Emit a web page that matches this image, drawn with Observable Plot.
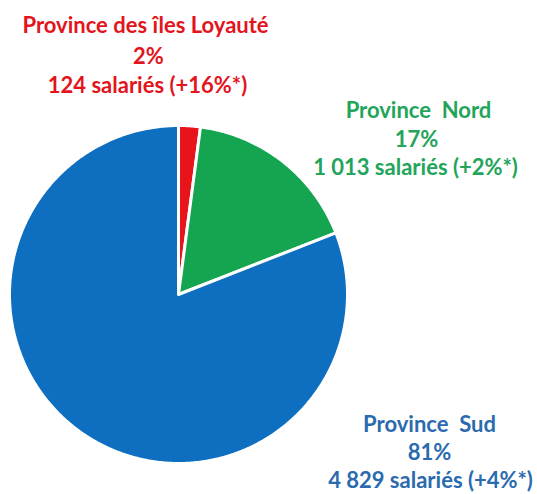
<!DOCTYPE html>
<html><head><meta charset="utf-8">
<script src="https://cdn.jsdelivr.net/npm/d3@7"></script>
<script src="https://cdn.jsdelivr.net/npm/@observablehq/plot@0.6"></script>
<style>
body{margin:0;background:#fff;}
#chart svg{display:block;font-family:Lato,"Open Sans",sans-serif;}
</style>
</head><body><div id="chart"></div>
<script>
// Data
const provinces = ["Province des îles Loyauté", "Province Nord", "Province Sud"];
const employees = [124, 1013, 4829];
const shares = ["2%", "17%", "81%"];
const growth = ["+16%*", "+2%*", "+4%*"];
const sliceColors = ["#e8141b", "#15a550", "#0e6ebf"];
const textColors = ["#e3141c", "#22a55a", "#2a6aae"];

const fr = d3.formatLocale({decimal: ",", thousands: " ", grouping: [3], currency: ["", " €"]});
const fmt = fr.format(",");

// Pie geometry from the data (angles measured clockwise from 12 o'clock)
const arcs = d3.pie().sort(null).value(d => d)(employees);
const pts = [];
arcs.forEach((a, i) => {
  const name = provinces[i];
  pts.push({name, x: 0, y: 0});
  const n = Math.max(2, Math.ceil((a.endAngle - a.startAngle) / 0.01));
  for (let k = 0; k <= n; k++) {
    const t = a.startAngle + (a.endAngle - a.startAngle) * k / n;
    pts.push({name, x: Math.sin(t), y: Math.cos(t)});
  }
  pts.push({name, x: 0, y: 0});
});

const cx = 178, cy = 294, r = 169;
const fontSize = 22;

function label(i, lines, xs, ys) {
  return lines.map((txt, j) => Plot.text([txt], {
    text: d => d, frameAnchor: "top-left", dx: xs[j], dy: ys[j], lineAnchor: "middle",
    fill: textColors[i], fontSize, fontWeight: "bold", textAnchor: "middle"
  }));
}

const plot = Plot.plot({
  width: 537, height: 494, margin: 0,
  x: {domain: [-1, 1], range: [cx - r, cx + r], axis: null},
  y: {domain: [-1, 1], range: [cy + r, cy - r], axis: null},
  color: {domain: provinces, range: sliceColors},
  style: {fontFamily: "Lato, 'Open Sans', sans-serif", background: "#fff"},
  marks: [
    Plot.line(pts, {x: "x", y: "y", z: "name", fill: "name", stroke: "white", strokeWidth: 3, strokeLinejoin: "round"}),
    ...label(0, [provinces[0], shares[0], `${fmt(employees[0])} salariés (${growth[0]})`], [145, 148, 147], [25, 56, 85]),
    ...label(1, ["Province  Nord", shares[1], `${fmt(employees[1])} salariés (${growth[1]})`], [418, 416, 415], [110, 139, 167]),
    ...label(2, ["Province  Sud", shares[2], `${fmt(employees[2])} salariés (${growth[2]})`], [429, 429, 430], [424, 452, 480])
  ]
});
document.getElementById("chart").appendChild(plot);
</script>
</body></html>
